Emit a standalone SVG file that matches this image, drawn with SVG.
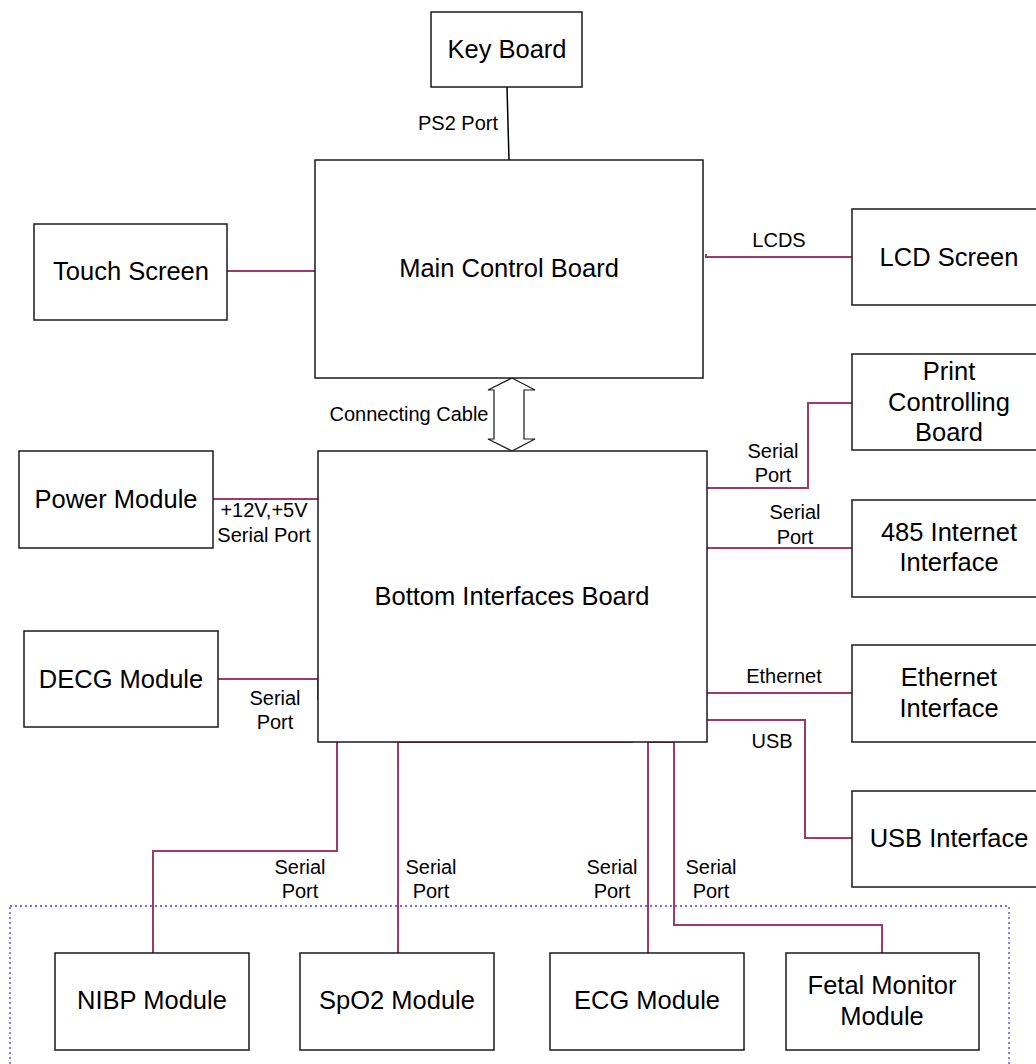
<svg xmlns="http://www.w3.org/2000/svg" width="1036" height="1064" viewBox="0 0 1036 1064">
<style>
.box{fill:#fff;stroke:#1a1a1a;stroke-width:1.5}
.t{font-family:"Liberation Sans",Arial,sans-serif;font-size:25.5px;fill:#000;text-anchor:middle}
.s{font-family:"Liberation Sans",Arial,sans-serif;font-size:20px;fill:#000;text-anchor:middle}
.c{fill:none;stroke:#9b3a6b;stroke-width:2}
</style>
<rect width="1036" height="1064" fill="#fff"/>
<rect x="10" y="906" width="999" height="170" fill="none" stroke="#3f3ff0" stroke-width="1.3" stroke-dasharray="2,3"/>
<g id="connectors">
<line x1="507" y1="87" x2="509" y2="160" stroke="#000" stroke-width="1.5"/>
<polyline class="c" points="227,271 318,271 318,268"/>
<polyline class="c" points="706,254 706,257 852,257"/>
<line class="c" x1="213" y1="499" x2="318" y2="499"/>
<polyline class="c" points="218,679 318,679 318,700"/>
<polyline class="c" points="707,488 808,488 808,403 852,403"/>
<line class="c" x1="707" y1="548" x2="852" y2="548"/>
<line class="c" x1="707" y1="693" x2="852" y2="693"/>
<polyline class="c" points="707,720 805,720 805,838 852,838"/>
<polyline class="c" points="337,742 337,851 153,851 153,953"/>
<polyline class="c" points="398,953 398,742 633,742"/>
<polyline class="c" points="648,953 648,742 674,742 674,925 882,925 882,953"/>
<polygon points="512,378 535,390 524,390 524,439 535,439 512,451 488,439 494,439 494,390 488,390" fill="#fff" stroke="#1a1a1a" stroke-width="1.2"/>
</g>
<g id="keyboard"><rect class="box" x="431" y="12" width="151" height="75"/><text class="t" x="507" y="58">Key Board</text></g>
<g id="main"><rect class="box" x="315" y="160" width="388" height="218"/><text class="t" x="509" y="277">Main Control Board</text></g>
<g id="touch"><rect class="box" x="34" y="224" width="193" height="96"/><text class="t" x="131" y="280">Touch Screen</text></g>
<g id="lcd"><rect class="box" x="852" y="209" width="194" height="96"/><text class="t" x="949" y="266">LCD Screen</text></g>
<g id="print"><rect class="box" x="852" y="354" width="194" height="96"/><text class="t" x="949" y="380">Print</text><text class="t" x="949" y="411">Controlling</text><text class="t" x="949" y="441">Board</text></g>
<g id="bottom"><rect class="box" x="318" y="451" width="389" height="291"/><text class="t" x="512" y="605">Bottom Interfaces Board</text></g>
<g id="power"><rect class="box" x="19" y="451" width="194" height="97"/><text class="t" x="116" y="508">Power Module</text></g>
<g id="i485"><rect class="box" x="852" y="500" width="194" height="97"/><text class="t" x="949" y="541">485 Internet</text><text class="t" x="949" y="571">Interface</text></g>
<g id="decg"><rect class="box" x="24" y="631" width="194" height="96"/><text class="t" x="121" y="688">DECG Module</text></g>
<g id="eth"><rect class="box" x="852" y="645" width="194" height="97"/><text class="t" x="949" y="686">Ethernet</text><text class="t" x="949" y="717">Interface</text></g>
<g id="usb"><rect class="box" x="852" y="791" width="194" height="96"/><text class="t" x="949" y="847">USB Interface</text></g>
<g id="nibp"><rect class="box" x="55" y="953" width="194" height="97"/><text class="t" x="152" y="1009">NIBP Module</text></g>
<g id="spo2"><rect class="box" x="300" y="953" width="194" height="97"/><text class="t" x="397" y="1009">SpO2 Module</text></g>
<g id="ecg"><rect class="box" x="550" y="953" width="194" height="97"/><text class="t" x="647" y="1009">ECG Module</text></g>
<g id="fetal"><rect class="box" x="786" y="953" width="193" height="97"/><text class="t" x="882" y="994">Fetal Monitor</text><text class="t" x="882" y="1025">Module</text></g>
<g id="labels">
<text class="s" x="458" y="130">PS2 Port</text>
<text class="s" x="779" y="247">LCDS</text>
<text class="s" x="409" y="421">Connecting Cable</text>
<text class="s" x="264" y="517">+12V,+5V</text>
<text class="s" x="264" y="542">Serial Port</text>
<text class="s" x="773" y="458">Serial</text><text class="s" x="773" y="482">Port</text>
<text class="s" x="795" y="519">Serial</text><text class="s" x="795" y="544">Port</text>
<text class="s" x="784" y="683">Ethernet</text>
<text class="s" x="275" y="705">Serial</text><text class="s" x="275" y="729">Port</text>
<text class="s" x="772" y="748">USB</text>
<text class="s" x="300" y="874">Serial</text><text class="s" x="300" y="898">Port</text>
<text class="s" x="431" y="874">Serial</text><text class="s" x="431" y="898">Port</text>
<text class="s" x="612" y="874">Serial</text><text class="s" x="612" y="898">Port</text>
<text class="s" x="711" y="874">Serial</text><text class="s" x="711" y="898">Port</text>
</g>
</svg>
